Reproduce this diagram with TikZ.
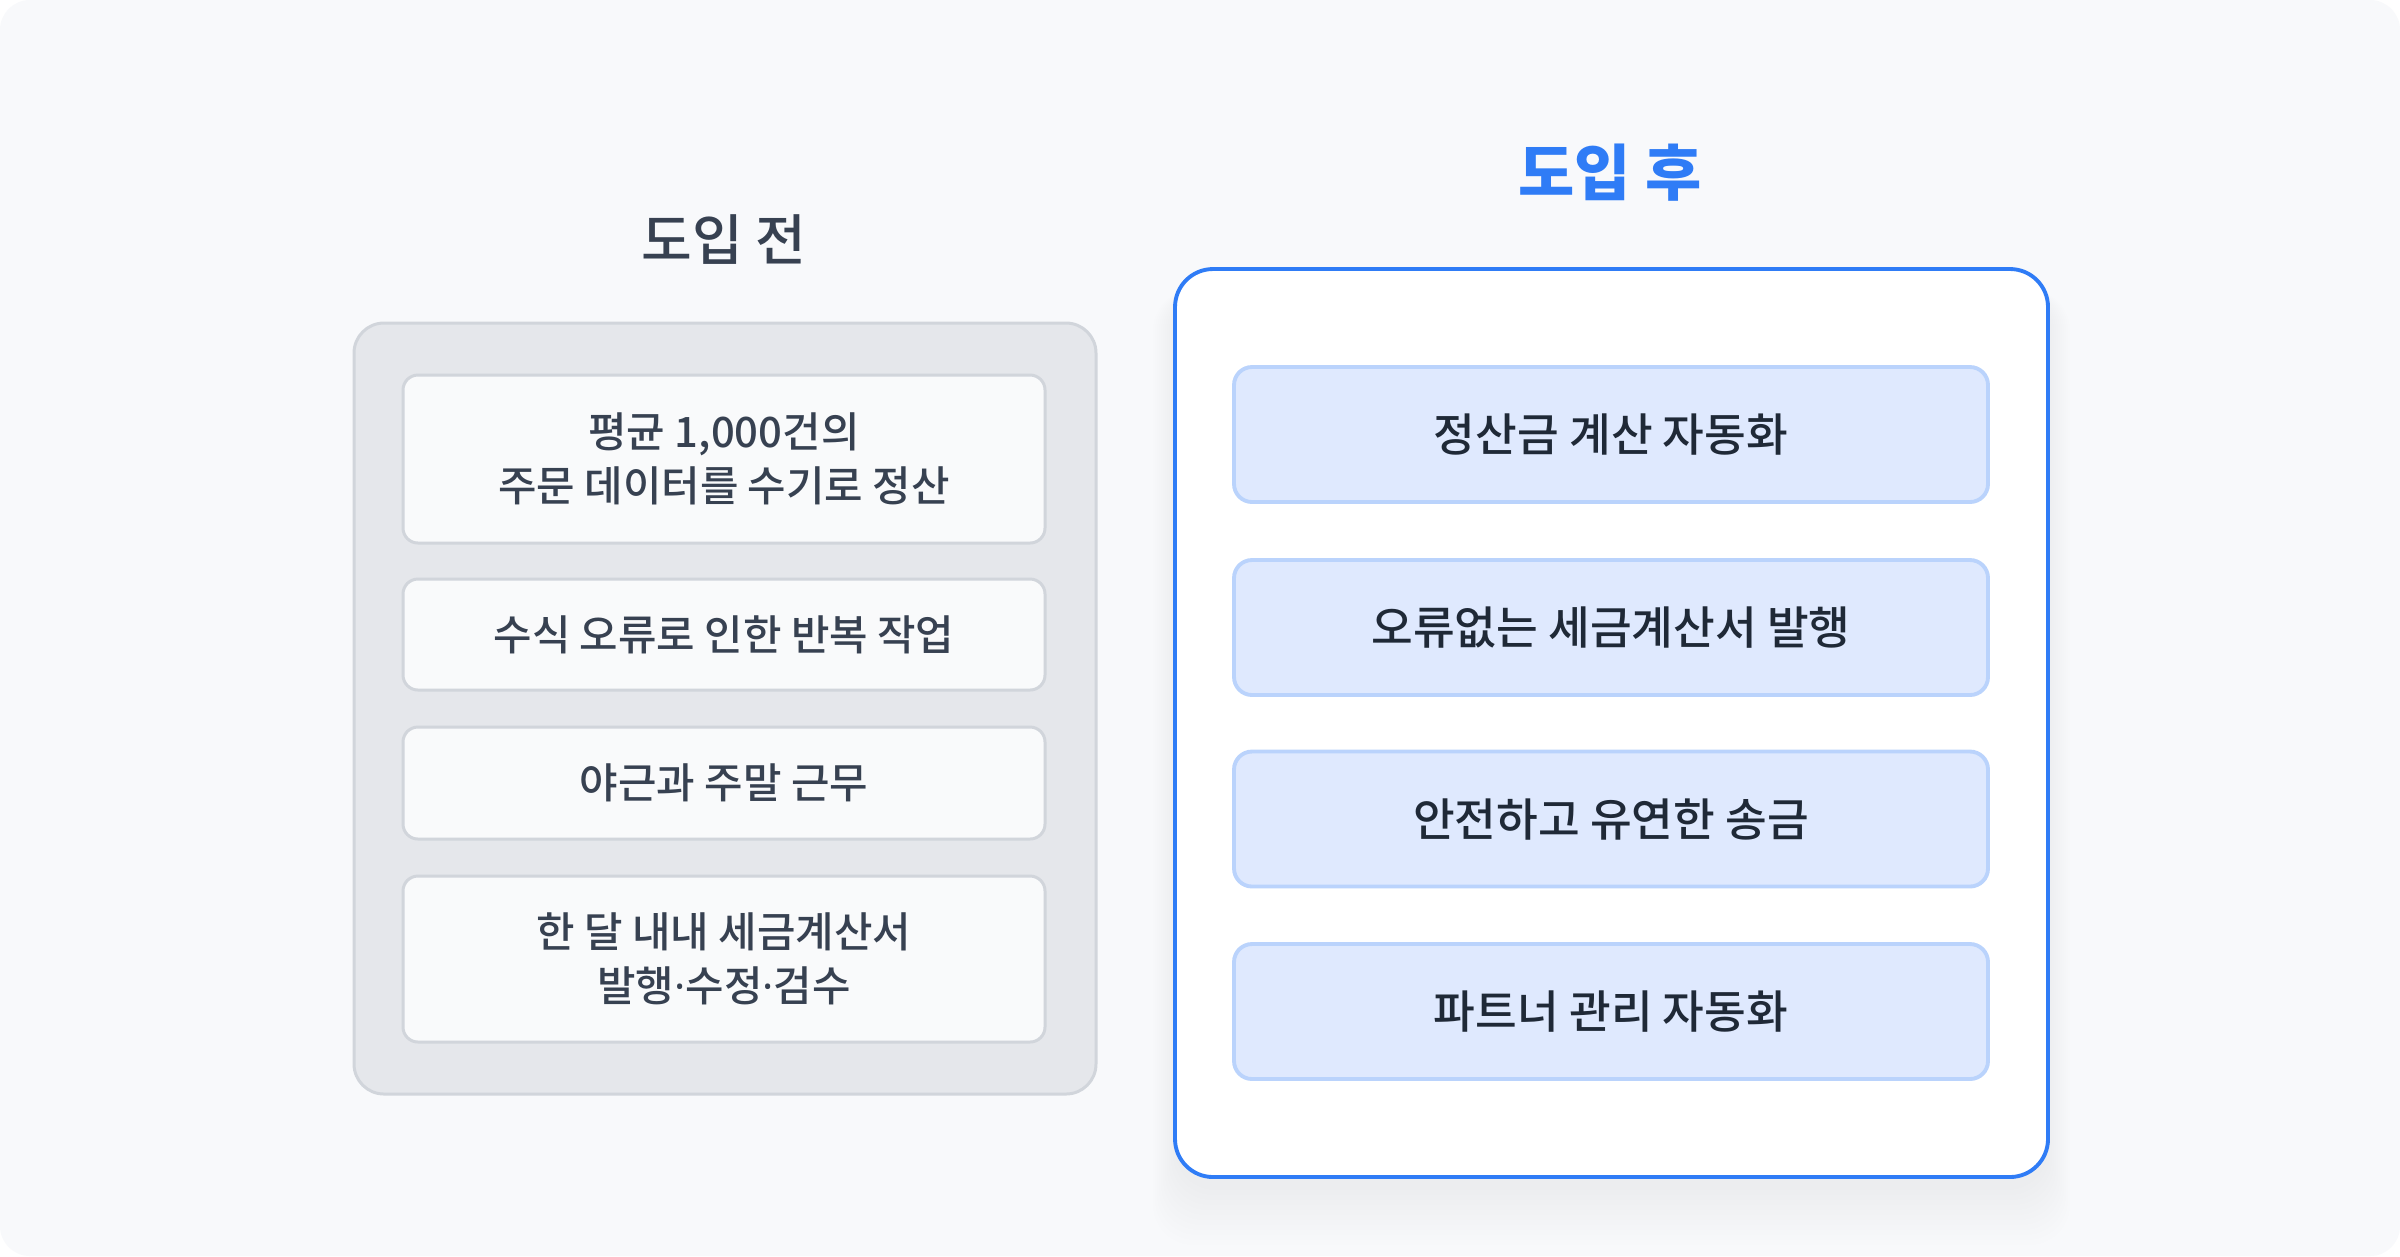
\documentclass[tikz,border=0pt]{standalone}
\usepackage{fontspec}
\setmainfont{Noto Sans CJK KR}
\newfontfamily\medfont{Noto Sans CJK KR Medium}
\newfontfamily\dotfont{Noto Sans}
\usetikzlibrary{positioning}

\definecolor{PageBg}{HTML}{F8F9FB}
\definecolor{GrayFill}{HTML}{E5E7EB}
\definecolor{GrayLine}{HTML}{D1D5DB}
\definecolor{CardFill}{HTML}{F9FAFB}
\definecolor{TextGray}{HTML}{374151}
\definecolor{TextDark}{HTML}{1F2937}
\definecolor{Accent}{HTML}{2F7CF6}
\definecolor{BlueFill}{HTML}{DFE9FE}
\definecolor{BlueLine}{HTML}{BAD3FC}

\newcommand{\mdot}{{\dotfont\textperiodcentered}}

\begin{document}
\begin{tikzpicture}[x=0.1mm, y=-0.1mm]
		\tikzstyle{Title}	= [inner sep=0pt]
		\tikzstyle{Before}	= [draw=GrayLine, fill=CardFill, line width=0.85pt, rounded corners=1.5mm,
								minimum width=6.42cm, inner sep=0pt, align=center, text=TextGray,
								font=\fontsize{11.9pt}{15.4pt}\selectfont\medfont]
		\tikzstyle{After}	= [draw=BlueLine, fill=BlueFill, line width=1.1pt, rounded corners=1.8mm,
								minimum width=7.54cm, minimum height=1.35cm, inner sep=0pt, text=TextDark,
								font=\fontsize{12.9pt}{15.4pt}\selectfont\medfont]
		
		% page
		\fill [white] (0,0) rectangle (2400,1256);
		\fill [PageBg, rounded corners=3mm] (0,0) rectangle (2400,1256);
		\useasboundingbox (0,0) rectangle (2400,1256);
		
		% left panel
		\node (before) at (725,708.5) [draw=GrayLine, fill=GrayFill, line width=0.85pt, rounded corners=3mm,
			minimum width=7.42cm, minimum height=7.71cm] {};
		\node (tb) at (724,240) [Title, text=TextGray, font=\fontsize{15.7pt}{18pt}\selectfont\medfont] {도입 전};
		
		\node (b1) at (724,459) [Before, minimum height=1.68cm] {평균 1,000건의\\주문 데이터를 수기로 정산};
		\node (b2) at (724,634.5) [Before, minimum height=1.11cm] {수식 오류로 인한 반복 작업};
		\node (b3) at (724,783) [Before, minimum height=1.12cm] {야근과 주말 근무};
		\node (b4) at (724,959) [Before, minimum height=1.66cm] {한 달 내내 세금계산서\\발행\mdot 수정\mdot 검수};
		
		% shadow of the right panel
		\foreach \s in {0,...,11}
			\fill [black, opacity=0.0045, rounded corners=4mm]
				(1175-2*\s,290) rectangle (2048+2*\s,1190+5*\s);
		
		% right panel
		\node (after) at (1611.5,723) [draw=Accent, fill=white, line width=1.1pt, rounded corners=3.8mm,
			minimum width=8.73cm, minimum height=9.08cm] {};
		\node (ta) at (1610,173) [Title, text=Accent, font=\fontsize{17.4pt}{20pt}\selectfont\bfseries] {도입 후};
		
		\node (a1) at (1611,434.5) [After] {정산금 계산 자동화};
		\node (a2) at (1611,627.5) [After] {오류없는 세금계산서 발행};
		\node (a3) at (1611,819) [After] {안전하고 유연한 송금};
		\node (a4) at (1611,1011.5) [After] {파트너 관리 자동화};
	\end{tikzpicture}
\end{document}
